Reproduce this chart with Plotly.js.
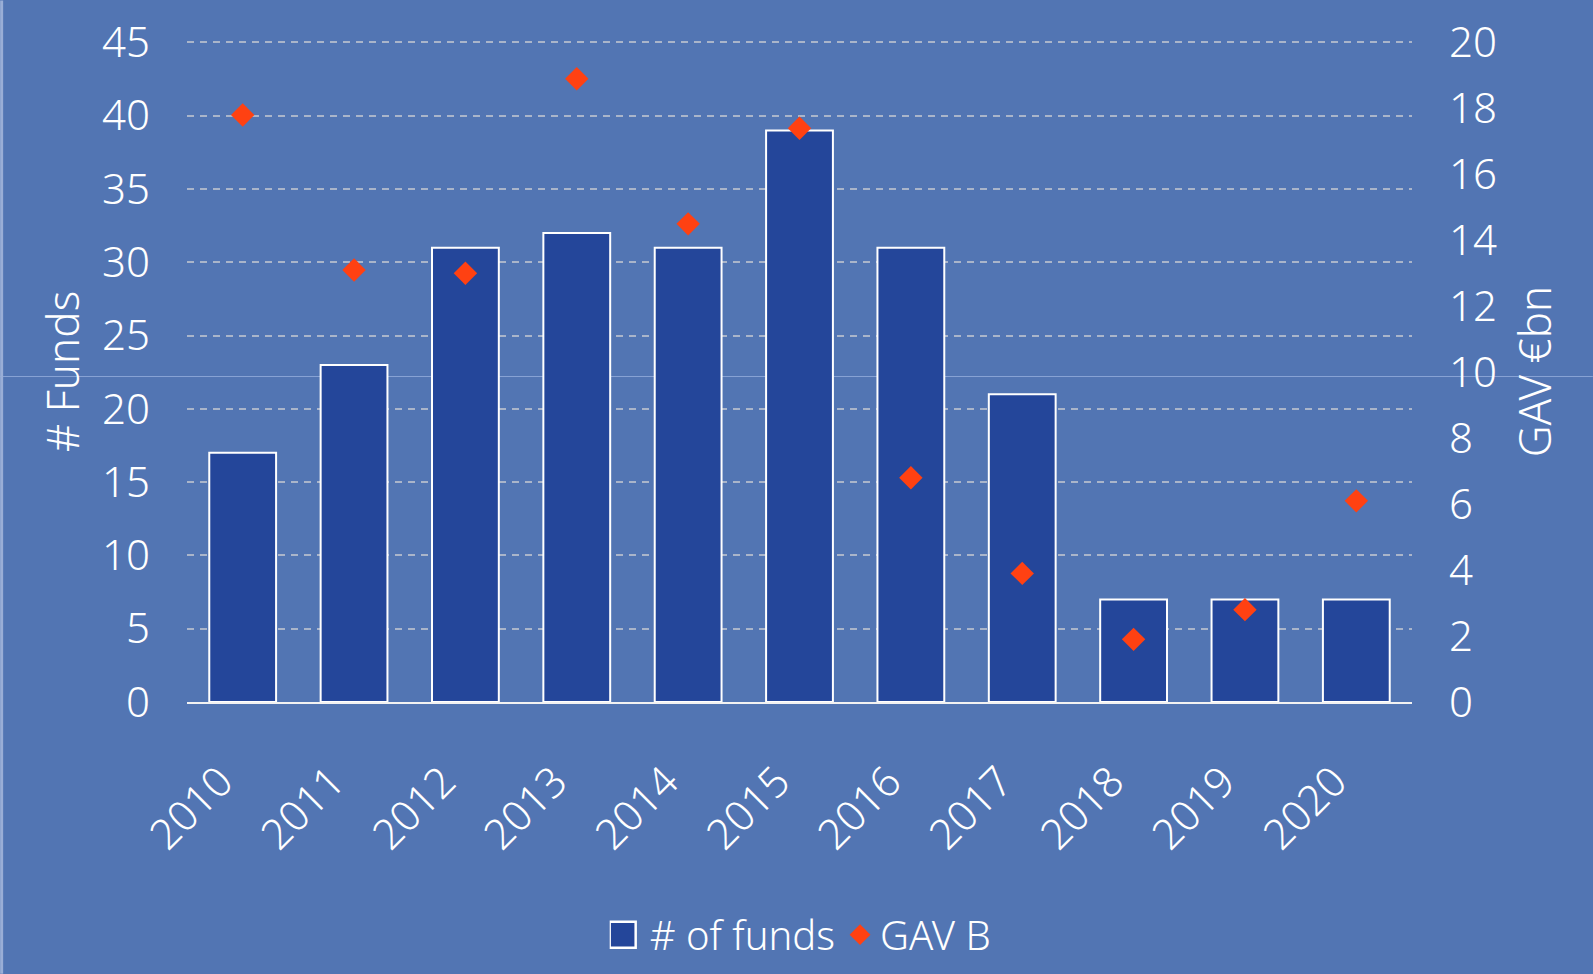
<!DOCTYPE html>
<html>
<head>
<meta charset="utf-8">
<script src="https://cdn.plot.ly/plotly-3.0.1.min.js"></script>
<style>
html,body{margin:0;padding:0;background:#5275b3;}
#chart{width:1593px;height:974px;}
</style>
</head>
<body>
<div id="chart"></div>
<script>
const years = ["2010","2011","2012","2013","2014","2015","2016","2017","2018","2019","2020"];
const numFunds = [17, 23, 31, 32, 31, 39, 31, 21, 7, 7, 7];
const gavB = [17.8, 13.1, 13.0, 18.9, 14.5, 17.4, 6.8, 3.9, 1.9, 2.8, 6.1];
const leftTicks = [0,5,10,15,20,25,30,35,40,45];
const rightTicks = [0,2,4,6,8,10,12,14,16,18,20];

const FONT = '"Noto Sans", "DejaVu Sans Condensed", sans-serif';
const WHITE = '#ffffff';
const BG = '#5275b3';
const TICK_SIZE = 42;

const traces = [
  {
    type: 'bar',
    name: '# of funds',
    x: years,
    y: numFunds,
    yaxis: 'y',
    width: 0.6,
    marker: {color: '#24469a', line: {color: '#ffffff', width: 2}},
    hoverinfo: 'x+y'
  },
  {
    type: 'scatter',
    mode: 'markers',
    name: 'GAV B',
    x: years,
    y: gavB,
    yaxis: 'y2',
    marker: {symbol: 'diamond', size: 18, color: '#ff4112'},
    hoverinfo: 'x+y'
  }
];

const layout = {
  width: 1593,
  height: 974,
  paper_bgcolor: BG,
  plot_bgcolor: BG,
  margin: {l: 187, r: 181, t: 40.5, b: 272, autoexpand: false},
  font: {family: FONT, color: WHITE, size: TICK_SIZE, weight: 300},
  showlegend: true,
  legend: {
    orientation: 'h',
    x: 0.503, xanchor: 'center',
    y: -0.352, yanchor: 'middle',
    font: {family: FONT, size: 40, color: WHITE, weight: 300},
    bgcolor: 'rgba(0,0,0,0)',
    itemwidth: 30,
    tracegroupgap: 0
  },
  bargap: 0.4,
  xaxis: {
    type: 'category',
    range: [-0.5, 10.5],
    tickvals: years,
    ticktext: years,
    tickangle: -45,
    tickfont: {family: FONT, size: TICK_SIZE, color: WHITE, weight: 300},
    showgrid: false,
    showline: true,
    linecolor: '#f2f2f2',
    linewidth: 2,
    ticks: '',
    ticklabelstandoff: 36,
    ticklabelshift: -22,
    zeroline: false
  },
  yaxis: {
    range: [0, 45.1],
    tickvals: leftTicks,
    ticktext: leftTicks.map(String),
    tickfont: {family: FONT, size: TICK_SIZE, color: WHITE, weight: 300},
    showgrid: true,
    gridcolor: '#aab5ca',
    gridwidth: 1.5,
    griddash: '7px,6px',
    zeroline: false,
    showline: false,
    ticks: '',
    ticklabelstandoff: 36,
    title: {text: '# Funds', font: {family: FONT, size: 44, color: WHITE, weight: 300}, standoff: 8}
  },
  yaxis2: {
    range: [0, 20 * 45.1 / 45],
    overlaying: 'y',
    side: 'right',
    tickvals: rightTicks,
    ticktext: rightTicks.map(String),
    tickfont: {family: FONT, size: TICK_SIZE, color: WHITE, weight: 300},
    showgrid: false,
    zeroline: false,
    showline: false,
    ticks: '',
    ticklabelstandoff: 36,
    title: {text: 'GAV €bn', font: {family: FONT, size: 44, color: WHITE, weight: 300}, standoff: 24}
  },
  shapes: [
    {type: 'line', xref: 'paper', yref: 'paper', x0: -187/1226, x1: 1 + 181/1226, y0: 0.4924, y1: 0.4924,
     line: {color: 'rgba(150,175,220,0.8)', width: 1}, layer: 'below'},
    {type: 'rect', xref: 'paper', yref: 'paper', x0: -187/1226, x1: -184/1226, y0: -272/661.5, y1: 1 + 40.5/661.5,
     fillcolor: '#9aaed6', line: {width: 0}, layer: 'below'}
  ]
};

Plotly.newPlot('chart', traces, layout, {displayModeBar: false, responsive: false}).then(function (gd) {
  // enlarge the bar legend swatch to match the reference's larger square
  gd.querySelectorAll('.legendpoints path').forEach(function (p) {
    var d = p.getAttribute('d') || '';
    if (d.indexOf('M6,6H-6V-6H6Z') === 0) {
      p.setAttribute('d', 'M6,13H-20V-13H6Z');
      p.style.strokeWidth = '2.5px';
    }
  });
});
</script>
</body>
</html>
